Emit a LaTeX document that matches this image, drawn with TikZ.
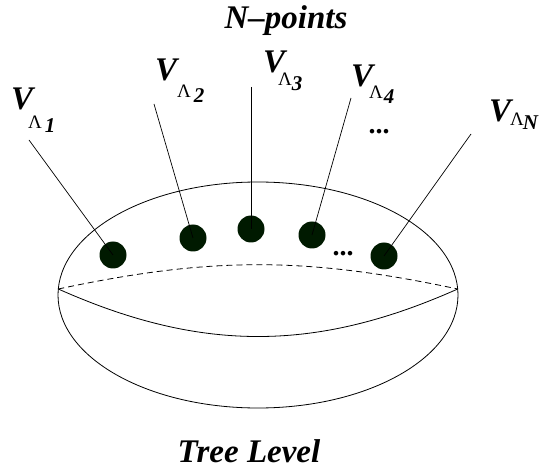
\documentclass[tikz,border=0pt]{standalone}
\usepackage{fontspec}
\setmainfont{Liberation Serif}
\usetikzlibrary{positioning,shapes.geometric}
\definecolor{vertexcol}{RGB}{0,26,0}
\newcommand{\lamsub}[3]{{\fontsize{19}{19}\selectfont\upshape\mdseries Λ}\kern#3pt\raisebox{-#2pt}{\fontsize{21}{21}\selectfont #1}}
\tikzset{
  vertex/.style={circle,fill=vertexcol,minimum size=27pt,inner sep=0pt},
  leg/.style={draw=black,line width=.7pt},
  rim/.style={draw=black,line width=.8pt},
  vlab/.style={inner sep=0pt,anchor=base west,font=\fontsize{33}{33}\selectfont\bfseries\itshape},
  sublab/.style={inner sep=0pt,anchor=base west,font=\bfseries\itshape},
  title/.style={inner sep=0pt,anchor=base,font=\fontsize{33}{33}\selectfont\bfseries\itshape},
  etc/.style={inner sep=0pt,anchor=base,font=\fontsize{28}{28}\selectfont\bfseries},
}
\begin{document}
\begin{tikzpicture}[x=1pt,y=-1pt]
  \useasboundingbox (0,0) rectangle (539,468);
  % sphere
  \node[ellipse,rim,minimum width=400pt,minimum height=226pt,inner sep=0pt] (shell) at (258,295) {};
  \coordinate (eqL) at (58.3,289);
  \coordinate (eqR) at (457.7,289);
  \draw[rim,dashed,dash pattern=on 6pt off 4pt] (eqL) to[out=12,in=168] (eqR);
  \draw[rim] (eqL) to[out=-24,in=-156] (eqR);
  % vertices
  \node[vertex] (d1) at (113,255) {};
  \node[vertex] (d2) at (193,238) {};
  \node[vertex] (d3) at (251,229) {};
  \node[vertex] (d4) at (312,235) {};
  \node[vertex] (dN) at (384,256) {};
  \node[etc] (dots) at (343,256) {...};
  % legs
  \coordinate (t1) at (29,140);
  \coordinate (t2) at (154,104);
  \coordinate (t3) at (251,87);
  \coordinate (t4) at (351,98);
  \coordinate (tN) at (471,134);
  \draw[leg] (t1) -- (d1.center);
  \draw[leg] (t2) -- (d2.center);
  \draw[leg] (t3) -- (d3.center);
  \draw[leg] (t4) -- (d4.center);
  \draw[leg] (tN) -- (dN.center);
  % labels
  \node[vlab] (v1) at (11,110) {V};
  \node[sublab] (s1) at (28,129) {\lamsub{1}{4}{3}};
  \node[vlab] (v2) at (155,81) {V};
  \node[sublab] (s2) at (177,98) {\lamsub{2}{5}{3}};
  \node[vlab] (v3) at (263,73) {V};
  \node[sublab] (s3) at (278,86) {\lamsub{3}{5}{0}};
  \node[vlab] (v4) at (351,87) {V};
  \node[sublab] (s4) at (369,99) {\lamsub{4}{5}{1}};
  \node[vlab] (vN) at (489,122) {V};
  \node[sublab] (sN) at (510,126) {\lamsub{N}{4}{-1}};
  \node[etc] (dots4) at (379,134) {...};
  \node[title] (npts) at (286,29) {N–points};
  \node[title] (tree) at (249,462) {Tree Level};
\end{tikzpicture}
\end{document}
